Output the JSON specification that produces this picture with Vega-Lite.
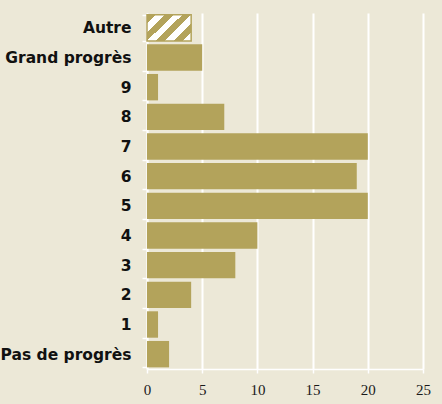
{
  "$schema": "https://vega.github.io/schema/vega-lite/v6.json",
  "autosize": {"type": "none"},
  "padding": {"left": 147, "top": 13, "right": 19, "bottom": 35},
  "width": 276,
  "height": 356,
  "background": "#ece8d7",
  "config": {
    "view": {"stroke": null},
    "axis": {"domainColor": "#ffffff", "tickColor": "#ffffff", "gridColor": "#ffffff"}
  },
  "data": {
    "values": [
      {"cat": "Autre", "n": 4},
      {"cat": "Grand progrès", "n": 5},
      {"cat": "9", "n": 1},
      {"cat": "8", "n": 7},
      {"cat": "7", "n": 20},
      {"cat": "6", "n": 19},
      {"cat": "5", "n": 20},
      {"cat": "4", "n": 10},
      {"cat": "3", "n": 8},
      {"cat": "2", "n": 4},
      {"cat": "1", "n": 1},
      {"cat": "Pas de progrès", "n": 2}
    ]
  },
  "encoding": {
    "y": {
      "field": "cat",
      "type": "nominal",
      "sort": null,
      "scale": {
        "domain": ["Autre", "Grand progrès", "9", "8", "7", "6", "5", "4", "3", "2", "1", "Pas de progrès"],
        "paddingInner": 0.11,
        "paddingOuter": 0.055
      },
      "axis": {
        "title": null,
        "tickBand": "extent",
        "tickSize": 5,
        "tickWidth": 1.5,
        "domainWidth": 1.5,
        "labelPadding": 11,
        "labelFont": "DejaVu Sans",
        "labelFontWeight": "bold",
        "labelFontSize": 15.5,
        "labelColor": "#111111",
        "grid": false
      }
    },
    "x": {
      "field": "n",
      "type": "quantitative",
      "scale": {"domain": [0, 25], "nice": false},
      "axis": {
        "title": null,
        "values": [0, 5, 10, 15, 20, 25],
        "labelFlush": false,
        "tickSize": 4,
        "tickWidth": 1.5,
        "domainWidth": 1.5,
        "gridWidth": 2,
        "labelPadding": 9,
        "labelFont": "Liberation Serif",
        "labelFontSize": 15,
        "labelColor": "#1a1a1a"
      }
    }
  },
  "layer": [
    {
      "transform": [{"filter": "datum.cat !== 'Autre'"}],
      "mark": {"type": "bar", "fill": "#b3a35b"}
    },
    {
      "transform": [{"filter": "datum.cat === 'Autre'"}],
      "mark": {
        "type": "bar",
        "stroke": "#b3a35b",
        "strokeWidth": 1.5,
        "fill": {
          "gradient": "linear",
          "x1": 0, "y1": 0, "x2": 1.175, "y2": 0.71,
          "stops": [
            {"offset": 0, "color": "#b3a35b"},
            {"offset": 0.125, "color": "#b3a35b"},
            {"offset": 0.125, "color": "#ffffff"},
            {"offset": 0.25, "color": "#ffffff"},
            {"offset": 0.25, "color": "#b3a35b"},
            {"offset": 0.375, "color": "#b3a35b"},
            {"offset": 0.375, "color": "#ffffff"},
            {"offset": 0.5, "color": "#ffffff"},
            {"offset": 0.5, "color": "#b3a35b"},
            {"offset": 0.625, "color": "#b3a35b"},
            {"offset": 0.625, "color": "#ffffff"},
            {"offset": 0.75, "color": "#ffffff"},
            {"offset": 0.75, "color": "#b3a35b"},
            {"offset": 0.875, "color": "#b3a35b"},
            {"offset": 0.875, "color": "#ffffff"},
            {"offset": 1, "color": "#ffffff"}
          ]
        }
      }
    }
  ]
}
